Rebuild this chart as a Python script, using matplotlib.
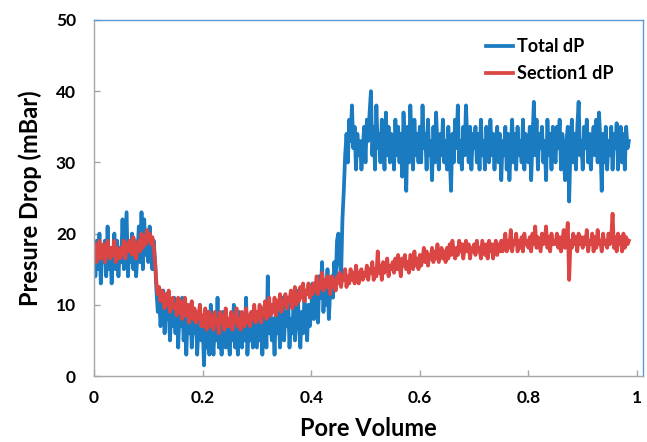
import numpy as np
import matplotlib.pyplot as plt

plt.rcParams['font.family'] = ['Lato', 'DejaVu Sans']
plt.rcParams['font.weight'] = 'bold'

# pore volume grid: one reading every 0.0025 PV
pv_step = 0.0025
pv_end = 0.985

total_dp = [
    18, 14, 19, 15, 20, 13, 17, 16, 19, 14, 21, 15, 18, 13, 17, 20, 15, 19, 14, 18,
    16, 22, 15, 19, 23, 14, 18, 16, 20, 15, 19, 14, 17, 21, 16, 23, 15, 22, 17, 20,
    16, 21, 18, 15, 19, 16, 12, 9, 11, 7, 10, 12, 6, 11, 8, 9, 5, 10, 7, 11,
    6, 10, 4, 9, 7, 11, 5, 8, 3, 9, 6, 10, 4, 8, 6, 9, 3, 7, 10, 5,
    8, 1.5, 7, 4, 9, 3, 10, 6, 3, 8, 5, 11, 4, 7, 3, 9, 6, 4, 8, 5,
    3, 8, 5, 10, 4, 7, 3, 9, 6, 4, 8, 5, 11, 3, 7, 5, 9, 4, 8, 6,
    4, 9, 5, 8, 3, 7, 10, 4, 14, 6, 9, 5, 8, 3, 10, 6, 9, 4, 7, 11,
    5, 9, 7, 11, 4, 8, 6, 10, 5, 9, 12, 7, 4, 9, 6, 11, 8, 5, 10, 7,
    9, 13, 8, 12, 10, 7.5, 14, 11, 16, 9, 13, 10, 15, 8, 12, 14, 11, 16, 13, 19,
    20, 16, 14, 22, 26, 31, 34, 30, 36, 33, 38, 32, 35, 29, 34, 31, 33, 29, 32, 35,
    30, 36, 33, 37, 40, 31, 35, 29, 38, 32, 34, 30, 36, 33, 29, 37, 31, 35, 30, 34,
    33, 29, 36, 31, 35, 30, 34, 28, 37, 32, 26, 35, 30, 38, 33, 29, 36, 31, 34, 30,
    35, 30, 38, 32, 34, 29, 36, 31, 33, 27.5, 35, 30, 37, 32, 29, 34, 31, 36, 30, 33,
    29, 35, 31, 26, 34, 30, 36, 32, 38, 30, 33, 29, 35, 31, 38, 33, 30, 35, 29, 34,
    32, 35, 30, 34, 29, 36, 31, 33, 29, 35, 32, 30, 36, 31, 34, 29, 33, 35, 30, 34,
    27.5, 33, 31, 35, 29, 34, 27.5, 32, 36, 30, 34, 29, 35, 31, 33, 30, 36, 29, 34, 32,
    30, 35, 27.5, 33, 38.5, 31, 36, 29, 34, 32, 35, 30, 33, 27.5, 36, 31, 34, 29, 35, 32,
    30, 35, 32, 36, 29, 34, 31, 27.5, 33, 35, 24.5, 32, 36, 30, 34, 29, 35, 38.5, 31, 33,
    29, 35, 32, 36, 30, 34, 29, 33, 35, 31, 36, 30, 37, 33, 26, 34, 30, 35, 29, 33,
    31, 35, 29, 34, 32, 35.5, 29, 33, 35, 30, 34, 29, 35, 32, 33,
]

section1_dp = [
    17, 18.5, 16, 18, 19, 16.5, 17.5, 18.5, 16, 17, 19, 17.5, 16.5, 18, 17, 19, 16, 18, 17.5, 16.5,
    18, 17, 19, 16.5, 18.5, 17.5, 19, 18, 17, 19.5, 18, 16.5, 18.5, 19, 17.5, 20, 18, 19.5, 18.5, 20.5,
    19, 20, 18.5, 19.5, 18, 16, 13, 11.5, 12.5, 10.5, 12, 11, 9.5, 11.5, 10, 12, 9, 10.5, 11, 9.5,
    10, 8.5, 11, 9, 10.5, 8, 9.5, 11, 8.5, 10, 7.5, 9, 10.5, 8, 9.5, 7.5, 9, 8, 10, 7,
    8.5, 7, 9.5, 6.5, 8, 9, 7, 8.5, 6.5, 9, 7.5, 8, 6, 9, 7.5, 8.5, 6.5, 9.5, 7, 8,
    7, 9, 6.5, 8.5, 7.5, 9.5, 7, 8, 6.5, 9, 8, 7, 9.5, 7.5, 8.5, 7, 9, 8, 10, 7.5,
    9, 8, 10, 7.5, 9.5, 8.5, 10.5, 8, 9, 11, 8.5, 10, 9, 11, 8.5, 10.5, 9.5, 11.5, 9, 10.5,
    10, 11.5, 9.5, 11, 10.5, 12, 9.5, 11, 12.5, 10, 11.5, 10.5, 12.5, 11, 13, 10.5, 12, 11.5, 13, 11,
    12.5, 11.5, 13, 12, 14, 11.5, 13, 12.5, 14.5, 12, 13.5, 12.5, 14, 13, 11.5, 14, 12.5, 13.5, 12, 14,
    13, 14.5, 12.5, 14, 13.5, 15, 12.5, 14, 13, 15, 13.5, 14.5, 13, 15.5, 14, 13, 14.5, 15, 13.5, 14.5,
    14, 15.5, 13.5, 15, 14.5, 16, 13.5, 15, 14, 17.5, 14.5, 15.5, 13.5, 16, 14.5, 15, 16.5, 14, 15.5, 15,
    16, 14.5, 16.5, 15, 17, 15.5, 14, 16.5, 15.5, 17, 15, 16, 14.5, 17, 16, 15, 17.5, 15.5, 16.5, 15,
    17, 15.5, 16.5, 18, 16, 17.5, 15.5, 17, 16.5, 18, 16, 17.5, 16.5, 18.5, 16, 17, 18, 16.5, 17.5, 16,
    18, 16.5, 18.5, 17, 19, 17.5, 16.5, 18, 17, 19, 17.5, 18.5, 16.5, 18, 19, 17.5, 18.5, 16.5, 18, 17.5,
    18.5, 17, 19, 17.5, 18, 16.5, 19, 18, 17, 18.5, 16.5, 19, 17.5, 18.5, 16.5, 18, 19, 17, 18.5, 17.5,
    19, 17.5, 18.5, 20, 17.5, 19, 18, 20.5, 17.5, 19, 18.5, 20, 17.5, 19, 18, 19.5, 17.5, 20, 18.5, 19,
    18, 19.5, 17.5, 20, 18.5, 21, 18, 19.5, 18.5, 17.5, 20, 18.5, 19, 21, 18, 19.5, 17.5, 20, 18.5, 19,
    18.5, 20, 18, 19.5, 17.5, 19, 20.5, 18, 19.5, 21.5, 13.5, 19, 18, 20, 18.5, 19.5, 17.5, 20, 18.5, 19.5,
    18, 19.5, 18.5, 20.5, 17.5, 19, 18.5, 20, 17.5, 19.5, 18, 20.5, 18.5, 19, 17.5, 20, 18.5, 19, 18, 20,
    18.5, 19.5, 22.8, 18, 19.5, 17.5, 20, 18.5, 19.5, 17.5, 20, 18, 19.5, 18.5, 19,
]

pv = np.arange(len(total_dp)) * pv_step

fig = plt.figure(figsize=(6.47, 4.42), dpi=100)
ax = fig.add_axes([0.1453, 0.1493, 0.8485, 0.8055])

ax.plot(pv, total_dp, color='#1A7BC1', lw=2.7, label='Total dP')
ax.plot(pv, section1_dp, color='#DB4543', lw=2.7, label='Section1 dP')

ax.set_xlim(0, 1.011)
ax.set_ylim(0, 50)
ax.set_xticks([0, 0.2, 0.4, 0.6, 0.8, 1.0])
ax.set_xticklabels(['0', '0.2', '0.4', '0.6', '0.8', '1'])
ax.set_yticks(range(0, 51, 10))

for side in ['left', 'bottom']:
    ax.spines[side].set_color('#A6A6A6')
for side in ['top', 'right']:
    ax.spines[side].set_color('#5B9BD5')
for sp in ax.spines.values():
    sp.set_linewidth(1.0)

ax.tick_params(direction='in', length=4, width=1, color='#A6A6A6',
               labelsize=12.5, pad=10)
ax.tick_params(axis='y', pad=13)

ax.set_xlabel('Pore Volume', fontsize=17, fontweight='bold', labelpad=8)
ax.set_ylabel('Presure Drop (mBar)', fontsize=17, fontweight='bold', labelpad=10)

leg = ax.legend(loc='upper right', bbox_to_anchor=(0.975, 0.995), frameon=False,
                fontsize=13, handlelength=1.5, handletextpad=0.2, labelspacing=0.55)

fig.savefig('out.png', dpi=100)
